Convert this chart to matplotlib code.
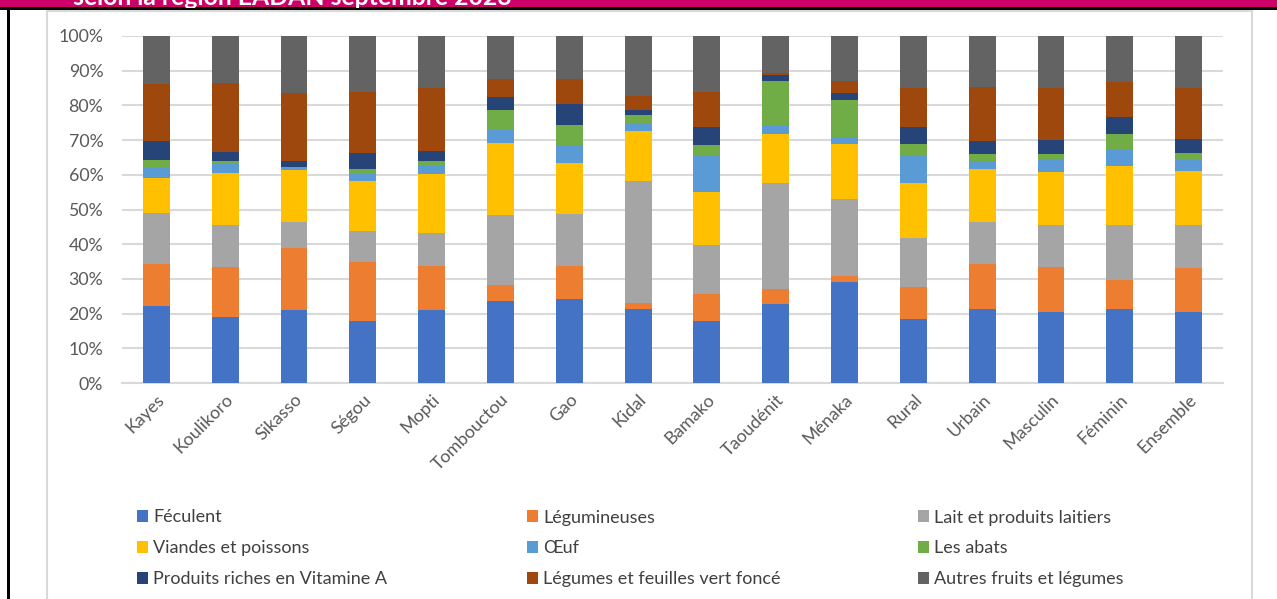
import matplotlib
matplotlib.use("Agg")
import matplotlib.pyplot as plt
from matplotlib.patches import Rectangle, Patch
from matplotlib.transforms import Bbox, TransformedBbox
import numpy as np

plt.rcParams['font.family'] = ['Lato', 'DejaVu Sans']

categories = ["Kayes", "Koulikoro", "Sikasso", "Ségou", "Mopti", "Tombouctou", "Gao",
              "Kidal", "Bamako", "Taoudénit", "Ménaka", "Rural", "Urbain", "Masculin",
              "Féminin", "Ensemble"]

feculent      = [22.3, 19.0, 20.9, 18.0, 20.9, 23.5, 24.2, 21.3, 17.8, 22.8, 29.2, 18.4, 21.3, 20.6, 21.3, 20.6]
legumineuses  = [11.9, 14.3, 18.1, 16.8, 12.7, 4.7, 9.4, 1.8, 7.9, 4.2, 1.5, 9.2, 12.9, 12.7, 8.5, 12.4]
lait          = [14.7, 12.3, 7.5, 8.9, 9.5, 20.3, 15.2, 35.1, 14.1, 30.6, 22.4, 14.2, 12.3, 12.3, 15.8, 12.6]
viandes       = [10.3, 14.9, 14.9, 14.5, 17.0, 20.8, 14.7, 14.5, 15.3, 14.3, 15.9, 15.8, 15.2, 15.1, 16.8, 15.5]
oeuf          = [3.1, 2.6, 0.5, 2.2, 2.6, 3.7, 5.1, 2.1, 10.7, 2.4, 1.8, 8.2, 2.2, 3.5, 5.0, 3.1]
abats         = [1.9, 0.8, 0.4, 1.2, 1.2, 5.7, 5.7, 2.4, 2.8, 12.6, 10.8, 3.1, 2.2, 1.9, 4.4, 2.2]
vitamine_a    = [5.4, 2.8, 1.6, 4.8, 2.9, 3.8, 6.0, 1.6, 5.1, 1.9, 1.9, 4.8, 3.5, 3.9, 4.8, 3.8]
legumes_vert  = [16.5, 19.7, 19.7, 17.5, 18.2, 5.0, 7.2, 4.0, 10.2, 0.5, 3.5, 11.2, 15.7, 15.0, 10.1, 14.8]
autres        = [13.9, 13.6, 16.4, 16.1, 15.0, 12.5, 12.5, 17.2, 16.1, 10.7, 13.0, 15.1, 14.7, 15.0, 13.3, 15.0]

series_names = ["Féculent", "Légumineuses", "Lait et produits laitiers", "Viandes et poissons",
                "Œuf", "Les abats", "Produits riches en Vitamine A",
                "Légumes et feuilles vert foncé", "Autres fruits et légumes"]
series = [feculent, legumineuses, lait, viandes, oeuf, abats, vitamine_a, legumes_vert, autres]
colors = ["#4472C4", "#ED7D31", "#A5A5A5", "#FFC000", "#5B9BD5", "#70AD47",
          "#264478", "#9E480E", "#636363"]

W, H = 1277, 599
fig = plt.figure(figsize=(W / 100, H / 100), dpi=100)
fig.patch.set_facecolor("white")

def fx(px):
    return px / W

def fy(py):
    return 1 - py / H

# Top magenta band, black rule, left black border, chart frame
fig.patches.append(Rectangle((0, fy(7.5)), 1, 7.5 / H, transform=fig.transFigure,
                             facecolor="#CC0066", edgecolor="none", zorder=5))
fig.patches.append(Rectangle((0, fy(9.5)), 1, 2.2 / H, transform=fig.transFigure,
                             facecolor="black", edgecolor="none", zorder=5))
fig.patches.append(Rectangle((fx(7), 0), 2.5 / W, fy(8), transform=fig.transFigure,
                             facecolor="black", edgecolor="none", zorder=5))
fig.patches.append(Rectangle((fx(46.5), -0.05), (1252 - 46.5) / W, fy(11) + 0.05,
                             transform=fig.transFigure, facecolor="none",
                             edgecolor="#D9D9D9", linewidth=1.5, zorder=1))

t = fig.text(fx(73), fy(5), "selon la région EADAN septembre 2023", color="white",
             fontsize=17.8, fontweight="bold", ha="left", va="baseline", zorder=6)
t.set_clip_box(TransformedBbox(Bbox([[0, fy(7.5)], [1, 1]]), fig.transFigure))
t.set_clip_on(True)

ax = fig.add_axes([fx(122), fy(383), fx(1223) - fx(122), fy(36) - fy(383)])
x = np.arange(len(categories))
bottom = np.zeros(len(categories))
for vals, c, name in zip(series, colors, series_names):
    v = np.array(vals, dtype=float)
    ax.bar(x, v, 0.39, bottom=bottom, color=c, label=name, zorder=3)
    bottom += v

ax.set_xlim(-0.5, len(categories) - 0.5)
ax.set_ylim(0, 100)
ax.set_yticks(np.arange(0, 101, 10))
ax.set_yticklabels([f"{v}%" for v in range(0, 101, 10)])
ax.yaxis.grid(True, color="#D9D9D9", linewidth=1.5, zorder=0)
ax.set_axisbelow(True)
for s in ["top", "right", "left"]:
    ax.spines[s].set_visible(False)
ax.spines["bottom"].set_color("#D9D9D9")
ax.spines["bottom"].set_linewidth(1.5)
ax.tick_params(axis="y", length=0, pad=13.5, labelsize=12.8, labelcolor="#595959")
ax.tick_params(axis="x", length=0, pad=6, labelsize=12.8, labelcolor="#595959")
ax.set_xticks(x)
ax.set_xticklabels(categories, rotation=45, ha="right", rotation_mode="anchor")

handles = [Patch(facecolor=c, edgecolor="none") for c in colors]
col_x = [137, 527, 918]
for ci in range(3):
    idx = [ci, ci + 3, ci + 6]
    leg = fig.legend([handles[i] for i in idx], [series_names[i] for i in idx],
                     loc="upper left", bbox_to_anchor=(fx(col_x[ci]), fy(509.5)),
                     frameon=False, fontsize=13, handlelength=0.6, handleheight=0.6,
                     handletextpad=0.3, labelspacing=0.83, borderaxespad=0, borderpad=0)
    for txt in leg.get_texts():
        txt.set_color("#404040")

fig.savefig("out.png", dpi=100, facecolor="white")
